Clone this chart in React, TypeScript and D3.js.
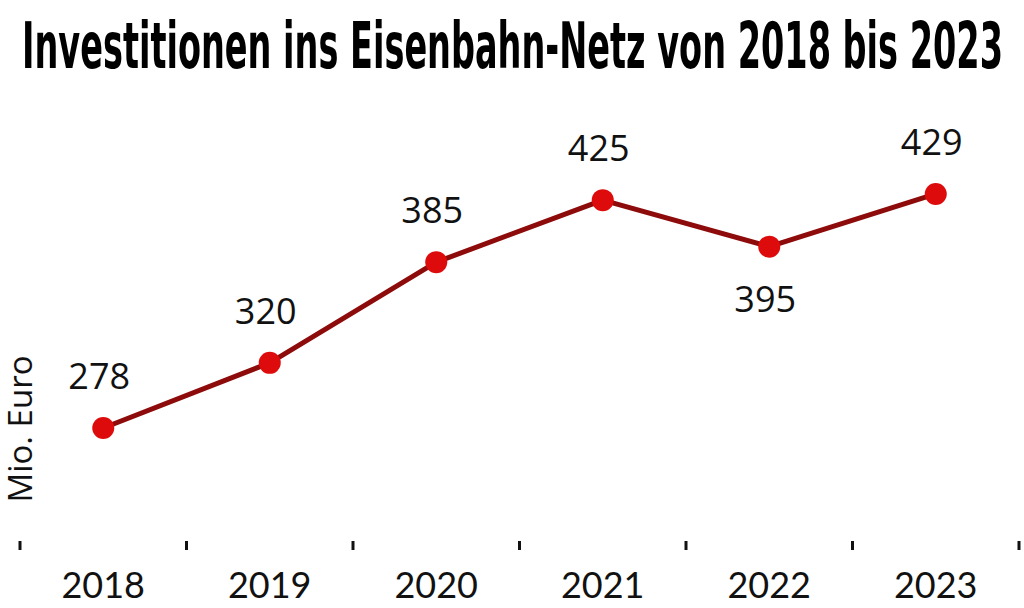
import React from "react";
import * as d3 from "d3";

const years = ["2018", "2019", "2020", "2021", "2022", "2023"];
const values = [278, 320, 385, 425, 395, 429];
const labelSide = ["above", "above", "above", "above", "below", "above"];
const titleText = "Investitionen ins Eisenbahn-Netz von 2018 bis 2023";
const yAxisLabel = "Mio. Euro";

const W = 1024;
const H = 608;

export default function App() {
  const x = d3.scaleBand<string>().domain(years).range([20, 1019]).padding(0);
  const y = d3.scaleLinear().domain([0, 500]).range([858.8, 83.9]);
  const cx = (d: string) => (x(d) as number) + x.bandwidth() / 2;
  const line = d3
    .line<number>()
    .x((_, i) => cx(years[i]))
    .y((v) => y(v));
  const tickXs = years.map((d) => x(d) as number).concat([x.range()[1]]);

  return (
    <svg
      width={W}
      height={H}
      style={{ position: "absolute", left: 0, top: 0, background: "#fff" }}
    >
      <text
        x={22}
        y={68}
        fontFamily="'Liberation Sans Narrow', 'DejaVu Sans Condensed', sans-serif"
        fontWeight="bold"
        fontSize={64}
        fill="#000"
        textLength={981}
        lengthAdjust="spacingAndGlyphs"
      >
        {titleText}
      </text>

      <text
        transform={`translate(32, 429) rotate(-90)`}
        textAnchor="middle"
        fontFamily="'Open Sans', sans-serif"
        fontSize={33}
        fill="#111"
      >
        {yAxisLabel}
      </text>

      {tickXs.map((tx, i) => (
        <line key={i} x1={tx} x2={tx} y1={541} y2={550} stroke="#111" strokeWidth={3} />
      ))}
      {years.map((d) => (
        <text
          key={d}
          x={cx(d)}
          y={598}
          textAnchor="middle"
          fontFamily="Lato, sans-serif"
          fontSize={36}
          fill="#111"
        >
          {d}
        </text>
      ))}

      <path d={line(values) || ""} fill="none" stroke="#8e0b0b" strokeWidth={5} strokeLinejoin="round" />
      {values.map((v, i) => (
        <circle key={i} cx={cx(years[i])} cy={y(v)} r={11} fill="#dd0b0b" />
      ))}
      {values.map((v, i) => (
        <text
          key={"l" + i}
          x={cx(years[i]) - 4}
          y={y(v) + (labelSide[i] === "above" ? -39 : 65)}
          textAnchor="middle"
          fontFamily="'Open Sans', sans-serif"
          fontSize={36}
          fill="#111"
        >
          {v}
        </text>
      ))}
    </svg>
  );
}
